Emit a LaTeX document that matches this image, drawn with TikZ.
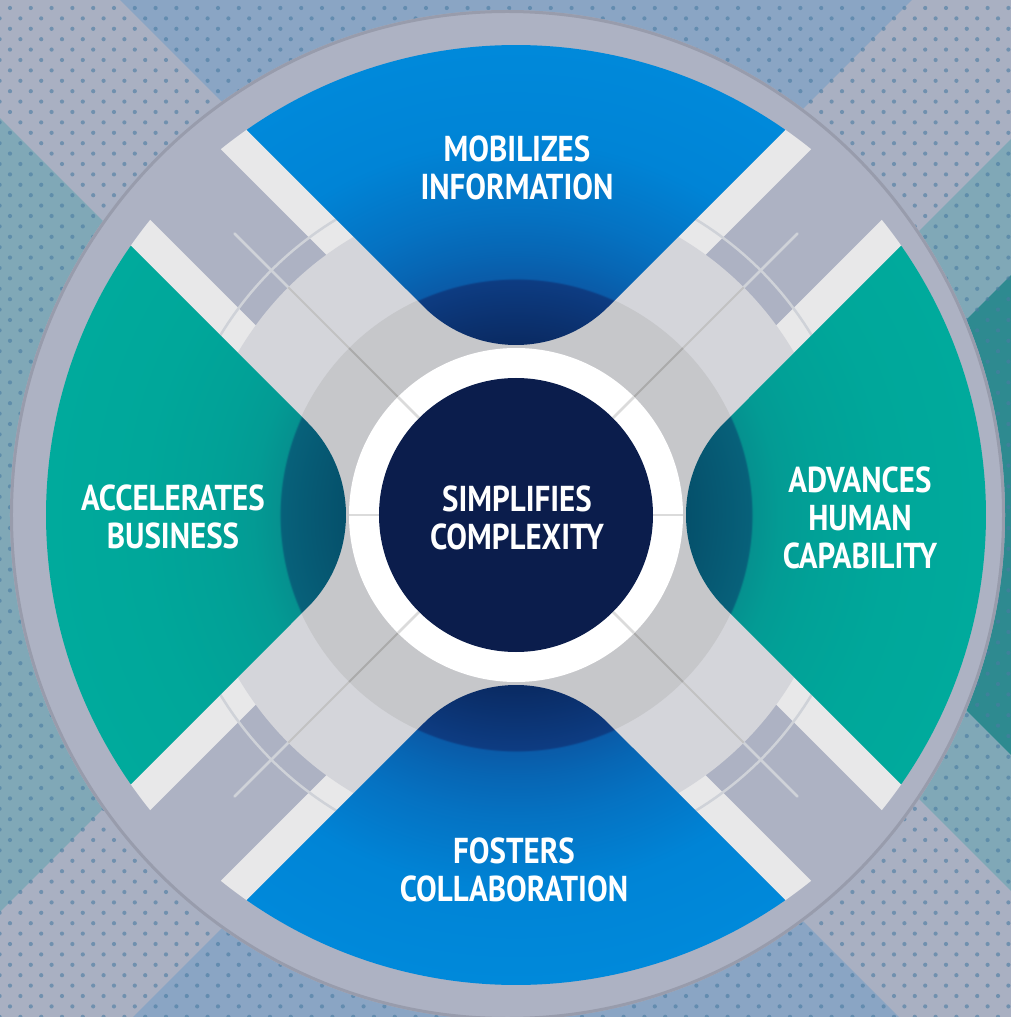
\documentclass[tikz,border=0pt]{standalone}
\usepackage{fontspec}
\newfontfamily\lblfont[FakeStretch=0.86]{PT Sans}
\definecolor{bandgray}{HTML}{A9B0C2}
\definecolor{bgblue}{HTML}{8AA5C4}
\definecolor{bgteal}{HTML}{80A8B7}
\definecolor{bgteald}{HTML}{2E8A90}
\definecolor{dotcol}{HTML}{4A7CA2}
\definecolor{ringgray}{HTML}{ADB2C3}
\definecolor{rimcol}{HTML}{989CAC}
\definecolor{stripw}{HTML}{E8E8E9}
\definecolor{arcln}{HTML}{CFD2D8}
\definecolor{lightz}{HTML}{D4D5DA}
\definecolor{darkz}{HTML}{C6C7CA}
\definecolor{navy}{HTML}{0B1D4C}
\definecolor{bdkA}{HTML}{0A2A62}
\definecolor{bdkB}{HTML}{0D3C82}
\definecolor{bmdA}{HTML}{0A5BA8}
\definecolor{bmdB}{HTML}{0766B4}
\definecolor{bmdC}{HTML}{0572C2}
\definecolor{botA}{HTML}{0084D6}
\definecolor{botB}{HTML}{0089DA}
\definecolor{tdkA}{HTML}{05506B}
\definecolor{tdkB}{HTML}{07617A}
\definecolor{tmdA}{HTML}{05918F}
\definecolor{tmdB}{HTML}{039B94}
\definecolor{tmdC}{HTML}{01A197}
\definecolor{totA}{HTML}{00A79A}
\definecolor{totB}{HTML}{00AA9C}
\pgfdeclareradialshading{blueshade}{\pgfpoint{0bp}{0bp}}{color(0bp)=(bdkA); color(9bp)=(bdkA); color(12.5bp)=(bdkB); color(12.6bp)=(bmdA); color(14bp)=(bmdB); color(16bp)=(bmdC); color(20bp)=(botA); color(25bp)=(botB); color(50bp)=(botB)}
\pgfdeclareradialshading{tealshade}{\pgfpoint{0bp}{0bp}}{color(0bp)=(tdkA); color(9bp)=(tdkA); color(12.5bp)=(tdkB); color(12.6bp)=(tmdA); color(14bp)=(tmdB); color(16bp)=(tmdC); color(20bp)=(totA); color(25bp)=(totB); color(50bp)=(totB)}
\tikzset{
  secpth/.style={insert path={(124.95:470) -- (-92.2,208.2) arc[start angle=225,end angle=315,radius=130.4] -- (55.05:470) arc[start angle=55.05,end angle=124.95,radius=470] -- cycle}},
  lbl/.style={text=white, font=\lblfont\bfseries\fontsize{36}{38}\selectfont, align=center, inner sep=0pt},
  ringline/.style={draw=#1, line width=2.5pt},
}
\begin{document}
\begin{tikzpicture}[x=1pt,y=1pt]
\useasboundingbox (-516,-502) rectangle (495,515);
\clip (-516,-502) rectangle (495,515);
% background
\fill[bandgray] (-520,-510) rectangle (500,520);
\fill[bgblue] (0,119) -- (-800,919) -- (800,919) -- cycle;
\fill[bgblue] (0,-119) -- (-800,-919) -- (800,-919) -- cycle;
\fill[bgteal] (-119,0) -- (-919,800) -- (-919,-800) -- cycle;
\fill[bgteal] (119,0) -- (919,800) -- (919,-800) -- cycle;
\fill[bgteald] (255,0) -- (1055,800) -- (1055,-800) -- cycle;
\foreach \j in {0,...,49} {
  \fill[dotcol, opacity=0.6] \foreach \i in {0,...,49} {
   (-526.8+20.8*\i, 507-20.8*\j) circle (2.1) (-516.4+20.8*\i, 496.6-20.8*\j) circle (2.1) };
}
% outer disc
\fill[ringgray] (-8.5,0) ellipse [x radius=497.5, y radius=505];
\draw[rimcol, line width=3pt] (-8.5,0) ellipse [x radius=496, y radius=503.5];
% white strips of the arms
\begin{scope}
  \clip (0,0) circle (470);
  \foreach \a in {45,135} {
    \begin{scope}[rotate=\a]
      \fill[stripw] (-480,50) rectangle (480,82);
      \fill[stripw] (-480,-82) rectangle (480,-50);
    \end{scope}
  }
\end{scope}
\foreach \a in {45,135,225,315} {
  \draw[arcln, line width=2.5pt] (\a-14:346) arc[start angle=\a-14, end angle=\a+14, radius=346];
  \draw[arcln, line width=2.5pt, line cap=round] (\a:322) -- (\a:398);
}
% central grey zones
\fill[lightz] (0,0) circle (322);
\fill[darkz] (0,0) circle (236);
\foreach \a in {45,135,225,315} {
  \draw[draw=black!24, line width=2pt] (\a:236) -- (\a:322);
  \draw[draw=black!33, line width=2pt] (\a:160) -- (\a:236);
}
% coloured sectors
\foreach \r/\sh in {0/blueshade, 90/tealshade, 180/blueshade, 270/tealshade} {
  \begin{scope}[rotate=\r]
    \clip[secpth];
    \shade[shading=\sh] (0,0) circle (470);
  \end{scope}
}
% white ring and centre
\fill[white] (0,0) circle (167);
\foreach \a in {0,45,135,180,225,315} {
  \draw[ringline=black!14] (\a:136) -- (\a:167);
}
\fill[navy] (0,0) circle (137);
% labels
\node[lbl] (ntop) at (1,347) {MOBILIZES\\INFORMATION};
\node[lbl] (ncenter) at (1,-3) {SIMPLIFIES\\COMPLEXITY};
\node[lbl] (nleft) at (-343,-2) {ACCELERATES\\BUSINESS};
\node[lbl] (nright) at (344,-3) {ADVANCES\\HUMAN\\CAPABILITY};
\node[lbl] (nbottom) at (-2,-355) {FOSTERS\\COLLABORATION};
\end{tikzpicture}
\end{document}
